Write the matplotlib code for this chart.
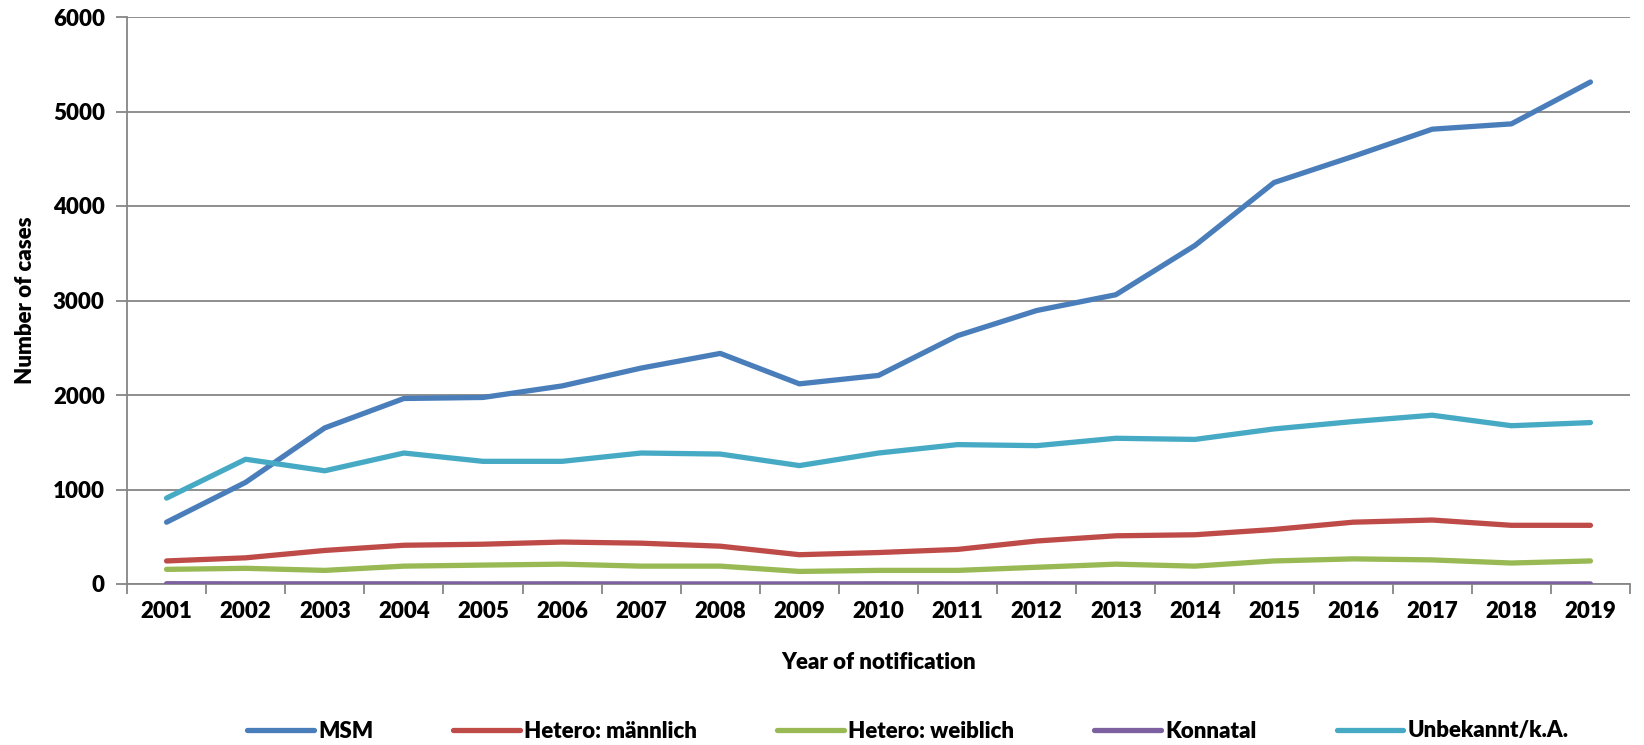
import matplotlib
matplotlib.use("Agg")
import matplotlib.pyplot as plt
from matplotlib.ticker import FixedLocator, NullFormatter, FixedFormatter

years = ["2001", "2002", "2003", "2004", "2005", "2006", "2007", "2008", "2009", "2010",
         "2011", "2012", "2013", "2014", "2015", "2016", "2017", "2018", "2019"]
msm = [654, 1076, 1652, 1963, 1974, 2096, 2285, 2440, 2118, 2207,
       2628, 2894, 3061, 3582, 4248, 4525, 4813, 4869, 5312]
hetero_m = [244, 277, 355, 410, 421, 444, 432, 400, 310, 333,
            366, 455, 510, 521, 577, 654, 677, 621, 621]
hetero_w = [155, 166, 144, 189, 200, 210, 189, 189, 133, 144,
            144, 177, 210, 189, 244, 266, 255, 222, 244]
konnatal = [3, 2, 2, 2, 1, 2, 1, 1, 1, 2, 1, 2, 1, 1, 1, 1, 1, 1, 1]
unbekannt = [909, 1320, 1198, 1386, 1298, 1298, 1386, 1375, 1253, 1386,
             1475, 1464, 1542, 1530, 1641, 1719, 1786, 1675, 1708]

series = [
    ("MSM", msm, "#4A7EBB"),
    ("Hetero: männlich", hetero_m, "#BE4B48"),
    ("Hetero: weiblich", hetero_w, "#98B954"),
    ("Konnatal", konnatal, "#7D60A0"),
    ("Unbekannt/k.A.", unbekannt, "#46AAC5"),
]

plt.rcParams['font.family'] = ['Lato', 'DejaVu Sans']
FS = 16
FW = 'heavy'
W, H = 1644, 745
fig = plt.figure(figsize=(W / 100, H / 100), dpi=100)
left, right, top, bottom = 127, 1630, 17, 584
ax = fig.add_axes([left / W, (H - bottom) / H, (right - left) / W, (bottom - top) / H])

x = list(range(len(years)))
handles = []
for name, vals, col in series:
    h, = ax.plot(x, vals, color=col, lw=3.8, solid_capstyle='round', label=name, zorder=3)
    handles.append(h)

ax.set_xlim(-0.5, len(years) - 0.5)
ax.set_ylim(0, 6000)
ax.set_yticks(range(0, 6001, 1000))
ax.yaxis.grid(True, color='#868686', lw=1.3)
ax.set_axisbelow(True)

ax.xaxis.set_major_locator(FixedLocator([i - 0.5 for i in range(len(years) + 1)]))
ax.xaxis.set_major_formatter(NullFormatter())
ax.xaxis.set_minor_locator(FixedLocator(x))
ax.xaxis.set_minor_formatter(FixedFormatter(years))
ax.tick_params(axis='x', which='major', length=7, color='#868686', width=1.3)
ax.tick_params(axis='x', which='minor', length=0, pad=12, labelsize=FS)
ax.tick_params(axis='y', length=8, color='#868686', width=1.3, labelsize=FS, pad=8)
for lab in ax.get_xticklabels(minor=True) + ax.get_yticklabels():
    lab.set_fontweight(FW)

for s in ['top', 'right']:
    ax.spines[s].set_visible(False)
for s in ['left', 'bottom']:
    ax.spines[s].set_color('#868686')
    ax.spines[s].set_linewidth(1.3)

ax.set_ylabel("Number of cases", fontsize=FS, fontweight=FW, labelpad=12)
ax.set_xlabel("Year of notification", fontsize=FS, fontweight=FW, labelpad=22)

fig.legend(handles=handles, loc='center', bbox_to_anchor=(908 / W, 1 - 731 / H), ncol=5,
           frameon=False, prop={'size': FS, 'weight': FW}, handlelength=3.0,
           columnspacing=3.6, handletextpad=0.2)

fig.savefig("out.png", dpi=100)
